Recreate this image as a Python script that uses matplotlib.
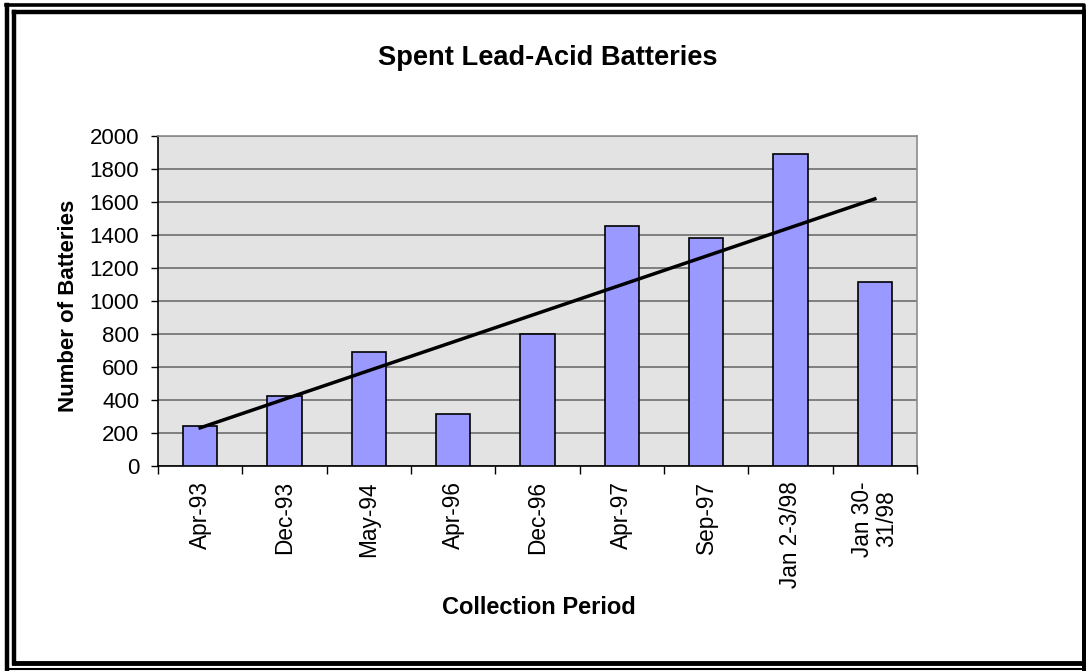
import numpy as np
import matplotlib
matplotlib.use("Agg")
import matplotlib.pyplot as plt
from matplotlib.lines import Line2D

plt.rcParams['font.family'] = ['Liberation Sans', 'DejaVu Sans']

periods = ["Apr-93", "Dec-93", "May-94", "Apr-96", "Dec-96", "Apr-97",
           "Sep-97", "Jan 2-3/98", "Jan 30-\n31/98"]
batteries = [245, 425, 693, 315, 800, 1456, 1384, 1893, 1115]
y_ticks = list(range(0, 2001, 200))

W, H = 1086, 671
fig = plt.figure(figsize=(W / 100, H / 100), dpi=100)

# plot area in pixel coordinates
left, right, top, bottom = 158, 917, 136, 466
ax = fig.add_axes([left / W, 1 - bottom / H, (right - left) / W, (bottom - top) / H])

x = np.arange(len(periods))
ax.set_facecolor("#E3E3E3")
ax.bar(x, batteries, width=0.41, color="#9999FF", edgecolor="black", linewidth=1.2, zorder=3)

# linear trendline through the bar centres
coef = np.polyfit(x, batteries, 1)
ax.plot(x[[0, -1]], np.polyval(coef, x[[0, -1]]), color="black", linewidth=2.5, zorder=4)

ax.set_xlim(-0.5, len(periods) - 0.5)
ax.set_ylim(0, 2000)
ax.set_yticks(y_ticks)
ax.set_yticklabels([str(v) for v in y_ticks], fontsize=16)
ax.yaxis.grid(True, color="#6E6E6E", linewidth=1.2, zorder=1)
ax.set_axisbelow(True)

ax.set_xticks(x)
ax.set_xticklabels(periods, rotation=90, fontsize=16.3, va="top", ha="center",
                   multialignment="center", linespacing=1.05)
ax.tick_params(axis="x", length=0, pad=11)
ax.set_xticks(np.arange(-0.5, len(periods), 1), minor=True)
ax.tick_params(axis="x", which="minor", length=6, width=1, color="black", direction="out")
ax.tick_params(axis="y", length=5, width=1, direction="out", pad=8.5)

for s in ("top", "right"):
    ax.spines[s].set_color("#8C8C8C")
    ax.spines[s].set_linewidth(1.2)
for s in ("left", "bottom"):
    ax.spines[s].set_color("black")
    ax.spines[s].set_linewidth(1.2)

fig.text(548 / W, 1 - 58 / H, "Spent Lead-Acid Batteries", ha="center", va="center",
         fontsize=19.6, fontweight="bold")
fig.text(539 / W, 1 - 607 / H, "Collection Period", ha="center", va="center",
         fontsize=17, fontweight="bold")
fig.text(68 / W, 1 - 306 / H, "Number of Batteries", ha="center", va="center",
         rotation=90, fontsize=16, fontweight="bold")

# double frame around the chart
def px_line(xs, ys, lw):
    fig.add_artist(Line2D([v / W for v in xs], [1 - v / H for v in ys],
                          color="black", linewidth=lw, transform=fig.transFigure,
                          solid_capstyle="projecting"))

px_line([6, 1084, 1084], [4.5, 4.5, 669], 2.6)
px_line([7, 7], [5, 669], 3.2)
px_line([7, 1084], [668.5, 668.5], 1.5)
px_line([14, 1084], [12, 12], 3.2)
px_line([14, 14], [12, 663], 3.2)
px_line([14, 1084], [662.5, 662.5], 3.5)
px_line([1084, 1084], [12, 669], 3.5)

fig.savefig("out.png", dpi=100, facecolor="white")
